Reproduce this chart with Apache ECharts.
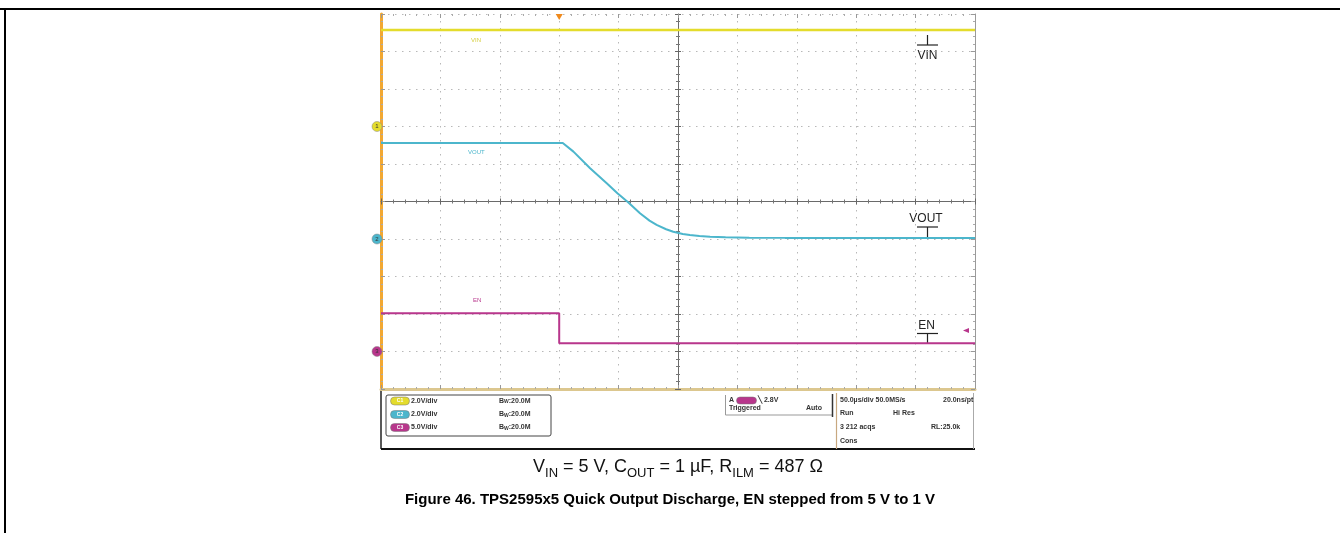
<!DOCTYPE html>
<html><head><meta charset="utf-8">
<script src="https://cdn.jsdelivr.net/npm/echarts@6/dist/echarts.min.js"></script>
<style>html,body{margin:0;padding:0;background:#fff}#c{width:1340px;height:533px}</style>
</head><body><div id="c"></div>
<script>
// ---- data (time in µs, 50 µs/div; volts per channel) ----
const vinTime  = [0, 500];
const vinVolts = [5.15, 5.15];
const voutTime  = [0, 153, 162, 176, 190, 199, 208, 218, 226, 232, 240, 246, 254, 260, 268, 277, 290, 310, 340, 500];
const voutVolts = [5.12, 5.12, 4.66, 3.77, 2.97, 2.44, 1.96, 1.37, 0.98, 0.75, 0.52, 0.39, 0.27, 0.21, 0.16, 0.12, 0.09, 0.07, 0.06, 0.06];
const enTime  = [0, 150, 150, 500];
const enVolts = [5.1, 5.1, 1.1, 1.1];
const triggerTime = 150;
const triggerLevel = 2.8;
const chScaleVdiv = [2, 2, 5];          // V/div per channel
const chGroundDiv = [3, 6, 9];          // ground marker, divisions from top
const timeMin = 0, timeMax = 500, timeDiv = 50;
const panelLeft = ['2.0V/div', '2.0V/div', '5.0V/div'];
const panelBw = 'B{s|W}:20.0M';
const caption = 'V_IN = 5 V, C_OUT = 1 µF, R_ILM = 487 Ω';
const title = 'Figure 46. TPS2595x5 Quick Output Discharge, EN stepped from 5 V to 1 V';

const zip = (a, b) => a.map((v, i) => [v, b[i]]);
const chAxis = (k) => ({ min: -(10 - chGroundDiv[k]) * chScaleVdiv[k], max: chGroundDiv[k] * chScaleVdiv[k] });

const GL = 381, GT = 14, GW = 594, GH = 375;
const FONT = '"Liberation Sans", Arial, sans-serif';
const colors = ['#e4dc2c', '#4cb6cc', '#b8368c'];

function frameAxis(extra) {
  return Object.assign({
    type: 'value', axisLabel: { show: false },
    axisLine: { show: true, onZero: false, lineStyle: { color: '#777', width: 1 } },
    axisTick: { show: true, inside: true, length: 4, lineStyle: { color: '#999' } },
    minorTick: { show: true, splitNumber: 5, length: 2, lineStyle: { color: '#aaa' } },
    splitLine: { show: false }
  }, extra);
}

const xAxes = [
  frameAxis({ min: timeMin, max: timeMax, interval: timeDiv, position: 'bottom',
    axisLine: { show: true, onZero: false, lineStyle: { color: '#dcc78f', width: 3 } },
    splitLine: { show: true, lineStyle: { color: '#b8b8b8', width: 1, type: [1.5, 5.5] } } }),
  frameAxis({ min: timeMin, max: timeMax, interval: timeDiv, position: 'top',
    axisLine: { show: false, onZero: false } }),
  frameAxis({ min: timeMin, max: timeMax, interval: timeDiv, position: 'bottom', offset: -GH / 2,
    axisLine: { show: true, onZero: false, lineStyle: { color: '#6a6a6a', width: 1 } },
    axisTick: { show: true, inside: true, length: 3, lineStyle: { color: '#666' } },
    minorTick: { show: true, splitNumber: 5, length: 2, lineStyle: { color: '#777' } } }),
  frameAxis({ min: timeMin, max: timeMax, interval: timeDiv, position: 'bottom', offset: -GH / 2,
    axisLine: { show: false, onZero: false },
    axisTick: { show: true, inside: false, length: 3, lineStyle: { color: '#666' } },
    minorTick: { show: true, splitNumber: 5, length: 2, lineStyle: { color: '#777' } } })
];

const yAxes = [
  frameAxis({ min: -5, max: 5, interval: 1, position: 'left',
    axisLine: { show: true, onZero: false, lineStyle: { color: '#f2a832', width: 3 } },
    splitLine: { show: true, lineStyle: { color: '#b8b8b8', width: 1, type: [1.5, 5.5] } } }),
  frameAxis({ min: -5, max: 5, interval: 1, position: 'right',
    axisLine: { show: true, onZero: false, lineStyle: { color: '#9a9a9a', width: 1 } } }),
  frameAxis({ min: -5, max: 5, interval: 1, position: 'left', offset: -GW / 2,
    axisLine: { show: true, onZero: false, lineStyle: { color: '#6a6a6a', width: 1 } },
    axisTick: { show: true, inside: true, length: 3, lineStyle: { color: '#666' } },
    minorTick: { show: true, splitNumber: 5, length: 2, lineStyle: { color: '#777' } } }),
  frameAxis({ min: -5, max: 5, interval: 1, position: 'left', offset: -GW / 2,
    axisLine: { show: false, onZero: false },
    axisTick: { show: true, inside: false, length: 3, lineStyle: { color: '#666' } },
    minorTick: { show: true, splitNumber: 5, length: 2, lineStyle: { color: '#777' } } }),
  Object.assign({ type: 'value', show: false }, chAxis(0)),
  Object.assign({ type: 'value', show: false }, chAxis(1)),
  Object.assign({ type: 'value', show: false }, chAxis(2))
];

function groundPoint(k, label) {
  return { coord: [timeMin, 0], symbol: 'circle', symbolSize: 10, symbolOffset: [-4, 0],
    itemStyle: { color: colors[k], borderColor: '#888', borderWidth: 0.5 },
    label: { show: true, position: 'inside', formatter: label, fontSize: 6, color: '#333', fontFamily: FONT } };
}
const mp = (data) => ({ silent: true, animation: false, data });

const series = [
  { name: 'VIN', type: 'line', xAxisIndex: 0, yAxisIndex: 4, data: zip(vinTime, vinVolts),
    symbol: 'none', lineStyle: { color: colors[0], width: 2.5 }, markPoint: mp([groundPoint(0, '1')]) },
  { name: 'VOUT', type: 'line', xAxisIndex: 0, yAxisIndex: 5, data: zip(voutTime, voutVolts),
    symbol: 'none', lineStyle: { color: colors[1], width: 2 }, markPoint: mp([groundPoint(1, '2')]) },
  { name: 'EN', type: 'line', xAxisIndex: 0, yAxisIndex: 6, data: zip(enTime, enVolts),
    symbol: 'none', lineStyle: { color: colors[2], width: 2 },
    markPoint: mp([
      groundPoint(2, '3'),
      { coord: [triggerTime, chAxis(2).max], symbol: 'triangle', symbolRotate: 180, symbolSize: [7, 6], symbolOffset: [0, 3],
        itemStyle: { color: '#f08a1c' }, label: { show: false } },
      { coord: [timeMax, triggerLevel], symbol: 'triangle', symbolRotate: 90, symbolSize: [5, 6], symbolOffset: [-9, 0],
        itemStyle: { color: colors[2] }, label: { show: false } }
    ])
  }
];

// ---------- annotations ----------
const g = [];
const txt = (x, y, text, o) => g.push({ type: 'text', x, y, style: Object.assign({ text, fill: '#333', font: 'bold 7px ' + FONT, textVerticalAlign: 'middle' }, o || {}), silent: true });
const ln = (x1, y1, x2, y2, stroke, w) => g.push({ type: 'line', shape: { x1, y1, x2, y2 }, style: { stroke, lineWidth: w || 1 }, silent: true });

// outer frame
ln(0, 9, 1340, 9, '#000', 2);
ln(5, 9, 5, 533, '#000', 2);

// probe labels
ln(917, 45, 938, 45, '#222', 1.2); ln(927.5, 35, 927.5, 45, '#222', 1.2);
txt(927.5, 56, 'VIN', { font: '12px ' + FONT, fill: '#222', textAlign: 'center' });
txt(926, 219, 'VOUT', { font: '12px ' + FONT, fill: '#222', textAlign: 'center' });
ln(917, 227, 938, 227, '#222', 1.2); ln(927.5, 227, 927.5, 237, '#222', 1.2);
txt(926.5, 326, 'EN', { font: '12px ' + FONT, fill: '#222', textAlign: 'center' });
ln(917, 333.5, 938, 333.5, '#222', 1.2); ln(927.5, 333.5, 927.5, 344, '#222', 1.2);

// tiny trace labels
txt(471, 40, 'VIN', { fill: '#d6cf40', font: '6px ' + FONT });
txt(468, 152, 'VOUT', { fill: '#4cb6cc', font: '6px ' + FONT });
txt(473, 300, 'EN', { fill: '#b8368c', font: '6px ' + FONT });

// info panel
ln(381, 390, 381, 449, '#222', 1.5);
ln(381, 449, 975, 449, '#111', 2);
g.push({ type: 'rect', shape: { x: 386, y: 395, width: 165, height: 41, r: 2 }, style: { fill: '#fff', stroke: '#444', lineWidth: 1 }, silent: true });
const rowsY = [401, 414.5, 427.5];
const pillTxt = ['C1', 'C2', 'C3'];
rowsY.forEach((y, i) => {
  g.push({ type: 'rect', shape: { x: 390.5, y: y - 4, width: 19, height: 8, r: 4 }, style: { fill: colors[i], stroke: '#777', lineWidth: 0.5 }, silent: true });
  txt(400, y, pillTxt[i], { fill: '#fff', font: 'bold 5px ' + FONT, textAlign: 'center' });
  txt(411, y, panelLeft[i]);
  g.push({ type: 'text', x: 499, y, silent: true, style: { text: panelBw, fill: '#333', font: 'bold 7px ' + FONT, textVerticalAlign: 'middle',
    rich: { s: { fontSize: 5, fontWeight: 'bold', fill: '#333', verticalAlign: 'bottom' } } } });
});
// trigger box
ln(725.5, 395, 725.5, 415, '#999', 1);
ln(725.5, 415, 832, 415, '#999', 1);
ln(832.5, 394, 832.5, 417, '#333', 1.5);
txt(729, 400, 'A');
g.push({ type: 'rect', shape: { x: 736.5, y: 397, width: 20, height: 7, r: 3.5 }, style: { fill: colors[2], stroke: '#777', lineWidth: 0.5 }, silent: true });
txt(758, 400, '╲ 2.8V');
txt(729, 408.5, 'Triggered');
txt(806, 408.5, 'Auto');
// acquisition box
ln(836.5, 393, 836.5, 449, '#c8a880', 1.2);
ln(973.5, 393, 973.5, 449, '#aaa', 1);
txt(840, 400, '50.0µs/div 50.0MS/s');
txt(943, 400, '20.0ns/pt');
txt(840, 413.5, 'Run');
txt(893, 413.5, 'Hi Res');
txt(840, 427.5, '3 212 acqs');
txt(931, 427.5, 'RL:25.0k');
txt(840, 441, 'Cons');

// caption with subscripts
const capRich = caption.replace(/_([A-Z]+)/g, '{s|$1}').split(/(\{s\|[A-Z]+\})/).map(p => p.startsWith('{s|') ? p : (p ? '{a|' + p + '}' : '')).join('');
g.push({ type: 'text', x: 678, y: 467, silent: true, style: {
  text: capRich, textAlign: 'center', textVerticalAlign: 'middle',
  rich: {
    a: { fontSize: 18, lineHeight: 26, fontFamily: FONT, fill: '#111' },
    s: { fontSize: 13, lineHeight: 16, fontFamily: FONT, fill: '#111', verticalAlign: 'bottom' }
  } } });
txt(670, 500, title, { font: 'bold 15px ' + FONT, fill: '#000', textAlign: 'center' });

const chart = echarts.init(document.getElementById('c'), null, { renderer: 'canvas' });
chart.setOption({
  animation: false,
  backgroundColor: '#fff',
  grid: { left: GL, top: GT, width: GW, height: GH, containLabel: false },
  xAxis: xAxes,
  yAxis: yAxes,
  series,
  graphic: { elements: g }
});
</script>
</body></html>
